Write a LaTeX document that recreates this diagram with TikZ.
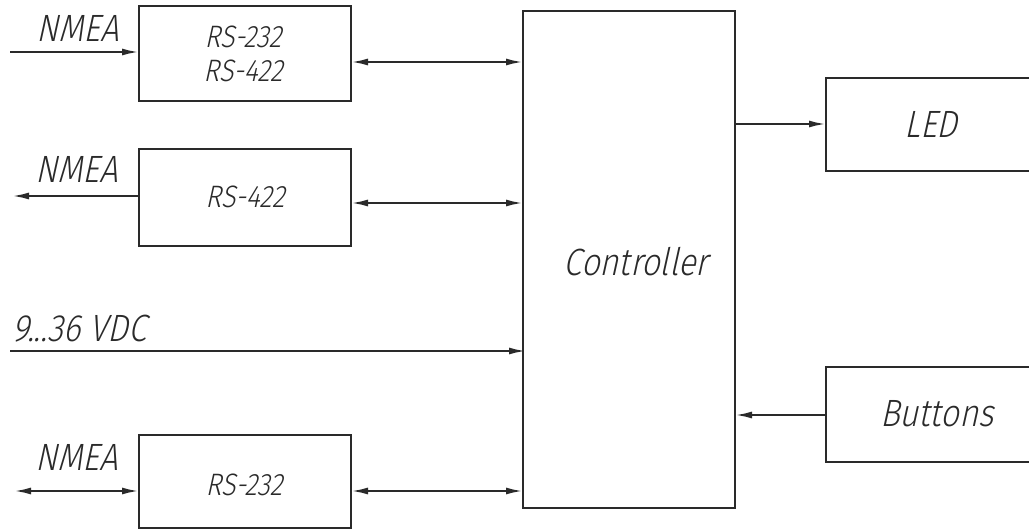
\documentclass[tikz,border=0pt]{standalone}
\usepackage{fontspec}
\newfontfamily\gost{Fira Sans Light}[FakeSlant=0.22, FakeStretch=0.86]
\usetikzlibrary{arrows.meta}
\definecolor{ink}{HTML}{2A2A2A}
\tikzset{
  blk/.style={draw=ink, line width=2.4pt, fill=none},
  conn/.style={draw=ink, line width=2.2pt},
  tip/.style={-{Latex[length=17pt,width=7pt]}},
  bitip/.style={{Latex[length=17pt,width=7pt]}-{Latex[length=17pt,width=7pt]}},
  lbl/.style={font=\gost\fontsize{38}{40}\selectfont, text=ink, inner sep=0pt},
  rsl/.style={font=\gost\fontsize{31}{34}\selectfont, text=ink, inner sep=0pt, align=center}
}
\begin{document}
\begin{tikzpicture}[x=1pt,y=-1pt]
\useasboundingbox (0,0) rectangle (1029,531);
\clip (0,0) rectangle (1029,531);
% boxes
\draw[blk] (139,6) rectangle (351,101);
\draw[blk] (139,149) rectangle (351,246);
\draw[blk] (139,435) rectangle (351,528);
\draw[blk] (523,11) rectangle (735,508);
\draw[blk] (826,78) rectangle (1045,171);
\draw[blk] (826,367) rectangle (1045,462);
% named anchor coordinates
\coordinate (b1w) at (139,52);
\coordinate (b1e) at (351,62);
\coordinate (b2w) at (139,196);
\coordinate (b2e) at (351,203);
\coordinate (b3w) at (139,491);
\coordinate (b3e) at (351,491);
\coordinate (c1) at (523,62);
\coordinate (c2) at (523,203);
\coordinate (c3) at (526,351);
\coordinate (c4) at (523,491);
\coordinate (cled) at (735,124);
\coordinate (cbtn) at (735,415);
\coordinate (led) at (826,124);
\coordinate (btn) at (826,415);
\coordinate (in1) at (10,52);
\coordinate (out2) at (12,196);
\coordinate (in3) at (14,491);
\coordinate (vdc) at (10,351);
% connectors
\draw[conn,tip] (in1) -- (b1w);
\draw[conn,tip] (b2w) -- (out2);
\draw[conn,bitip] (in3) -- (b3w);
\draw[conn,bitip] (b1e) -- (c1);
\draw[conn,bitip] (b2e) -- (c2);
\draw[conn,bitip] (b3e) -- (c4);
\draw[conn,tip] (vdc) -- (c3);
\draw[conn,tip] (cled) -- (led);
\draw[conn,tip] (btn) -- (cbtn);
% texts
\node[lbl] (n1) at (78,28) {NMEA};
\node[lbl] (n2) at (77,169) {NMEA};
\node[lbl] (n3) at (77,457) {NMEA};
\node[lbl, anchor=base west] (v) at (12,341) {9...36 VDC};
\node[rsl] (r1) at (243,54) {RS-232\\RS-422};
\node[rsl] (r2) at (245,197) {RS-422};
\node[rsl] (r3) at (244,485) {RS-232};
\node[lbl] (ctl) at (636,262) {Controller};
\node[lbl] (ledt) at (931,124) {LED};
\node[lbl] (btnt) at (937,414) {Buttons};
\end{tikzpicture}
\end{document}
